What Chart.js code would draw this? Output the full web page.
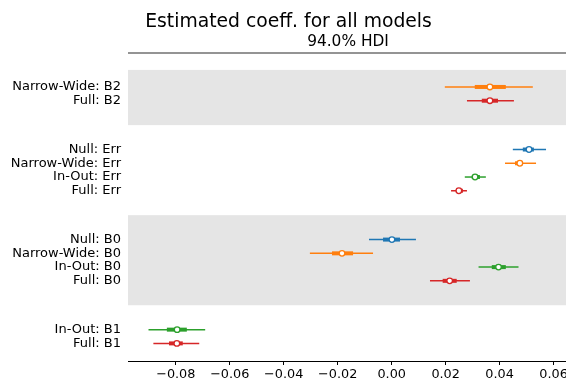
<!DOCTYPE html>
<html>
<head>
<meta charset="utf-8">
<script src="https://cdn.jsdelivr.net/npm/chart.js@4/dist/chart.umd.min.js"></script>
<style>
  html, body { margin: 0; padding: 0; background: #ffffff; overflow: hidden; }
  #wrap { width: 566px; height: 385px; overflow: hidden; }
</style>
</head>
<body>
<div id="wrap"><canvas id="c" width="600" height="385"></canvas></div>
<script>
// Forest plot: posterior medians, interquartile ranges and 94% HDIs per model
const rowLabels = [
  'Narrow-Wide: B2', 'Full: B2',
  'Null: Err', 'Narrow-Wide: Err', 'In-Out: Err', 'Full: Err',
  'Null: B0', 'Narrow-Wide: B0', 'In-Out: B0', 'Full: B0',
  'In-Out: B1', 'Full: B1'
];
const rowModels = [
  'Narrow-Wide', 'Full',
  'Null', 'Narrow-Wide', 'In-Out', 'Full',
  'Null', 'Narrow-Wide', 'In-Out', 'Full',
  'In-Out', 'Full'
];
const rowGroups = [0, 0, 1, 1, 1, 1, 2, 2, 2, 2, 3, 3];

const hdiLow   = [0.0197, 0.0279, 0.0449, 0.0420, 0.0271, 0.0220, -0.0084, -0.0303, 0.0322, 0.0142, -0.0901, -0.0883];
const hdiHigh  = [0.0523, 0.0453, 0.0572, 0.0535, 0.0349, 0.0279,  0.0090, -0.0069, 0.0470, 0.0290, -0.0691, -0.0713];
const iqrLow   = [0.0308, 0.0334, 0.0486, 0.0457, 0.0297, 0.0238, -0.0032, -0.0221, 0.0371, 0.0189, -0.0833, -0.0825];
const iqrHigh  = [0.0423, 0.0394, 0.0527, 0.0486, 0.0327, 0.0264,  0.0031, -0.0143, 0.0423, 0.0241, -0.0759, -0.0774];
const medians  = [0.0364, 0.0364, 0.0509, 0.0475, 0.0309, 0.0249,  0.0001, -0.0184, 0.0396, 0.0215, -0.0795, -0.0796];

const xTicks = [-0.08, -0.06, -0.04, -0.02, 0.00, 0.02, 0.04, 0.06];

const modelColors = {
  'Null': '#1f77b4',
  'Narrow-Wide': '#ff7f0e',
  'In-Out': '#2ca02c',
  'Full': '#d62728'
};

// vertical layout: one unit per row, extra space between parameter groups
const GROUP_GAP = 2.55;
const rowPos = rowLabels.map((_, i) => i + rowGroups[i] * GROUP_GAP);
const Y_MIN = -2.47, Y_MAX = 19.93;

// shaded band limits for alternating groups
function groupBands() {
  const nGroups = Math.max(...rowGroups) + 1;
  const bands = [];
  for (let g = 0; g < nGroups; g++) {
    const ps = rowPos.filter((_, i) => rowGroups[i] === g);
    const first = Math.min(...ps), last = Math.max(...ps);
    let top, bottom;
    if (g === 0) top = first - 1.24;
    else {
      const prevLast = Math.max(...rowPos.filter((_, i) => rowGroups[i] === g - 1));
      top = (prevLast + first) / 2;
    }
    if (g === nGroups - 1) bottom = Y_MAX;
    else {
      const nextFirst = Math.min(...rowPos.filter((_, i) => rowGroups[i] === g + 1));
      bottom = (last + nextFirst) / 2;
    }
    bands.push({ top, bottom, shaded: g % 2 === 0 });
  }
  return bands;
}

const datasets = [];
// medians on top
rowLabels.forEach((lab, i) => {
  const col = modelColors[rowModels[i]];
  datasets.push({
    label: lab + ' median', data: [{ x: medians[i], y: rowPos[i] }],
    pointRadius: 2.8, pointBackgroundColor: '#ffffff', pointBorderColor: col,
    pointBorderWidth: 1.3, showLine: false, order: 0
  });
});
rowLabels.forEach((lab, i) => {
  const col = modelColors[rowModels[i]];
  datasets.push({
    label: lab + ' iqr', data: [{ x: iqrLow[i], y: rowPos[i] }, { x: iqrHigh[i], y: rowPos[i] }],
    showLine: true, borderColor: col, borderWidth: 4, pointRadius: 0, borderCapStyle: 'butt', order: 1
  });
  datasets.push({
    label: lab + ' hdi', data: [{ x: hdiLow[i], y: rowPos[i] }, { x: hdiHigh[i], y: rowPos[i] }],
    showLine: true, borderColor: col, borderWidth: 1.5, pointRadius: 0, borderCapStyle: 'butt', order: 2
  });
});

const FONT = 'DejaVu Sans';

const decor = {
  id: 'decor',
  beforeDatasetsDraw(chart) {
    const { ctx, chartArea, scales } = chart;
    ctx.save();
    groupBands().forEach(b => {
      if (!b.shaded) return;
      const y1 = scales.y.getPixelForValue(b.top);
      const y2 = scales.y.getPixelForValue(b.bottom);
      ctx.fillStyle = '#e5e5e5';
      ctx.fillRect(chartArea.left, y1, chartArea.right - chartArea.left, y2 - y1);
    });
    ctx.restore();
  },
  afterDraw(chart) {
    const { ctx, chartArea } = chart;
    ctx.save();
    // top rule
    ctx.strokeStyle = '#707070';
    ctx.lineWidth = 1.5;
    ctx.beginPath();
    ctx.moveTo(chartArea.left, chartArea.top);
    ctx.lineTo(chartArea.right, chartArea.top);
    ctx.stroke();
    ctx.fillStyle = '#000000';
    ctx.textAlign = 'center';
    ctx.textBaseline = 'alphabetic';
    ctx.font = '18.75px "' + FONT + '"';
    ctx.fillText('Estimated coeff. for all models', 288.5, 27);
    ctx.font = '15.4px "' + FONT + '"';
    ctx.fillText('94.0% HDI', (chartArea.left + chartArea.right) / 2 + 1, 46);
    ctx.restore();
  }
};

new Chart(document.getElementById('c'), {
  type: 'scatter',
  data: { datasets },
  options: {
    responsive: false,
    animation: false,
    events: [],
    layout: { padding: { top: 53, right: 34, left: 0, bottom: 0 } },
    plugins: { legend: { display: false }, tooltip: { enabled: false } },
    scales: {
      x: {
        type: 'linear',
        min: -0.0977, max: 0.0646,
        afterBuildTicks: axis => { axis.ticks = xTicks.map(v => ({ value: v })); },
        afterFit: axis => { axis.height = 24; },
        ticks: {
          autoSkip: false, maxRotation: 0, padding: 2,
          color: '#000000',
          font: { family: FONT, size: 12.8 },
          callback: v => (v < 0 ? '\u2212' : '') + Math.abs(v).toFixed(2)
        },
        grid: { display: true, drawOnChartArea: false, drawTicks: true, tickLength: 4, color: '#000000', lineWidth: 1 },
        border: { display: true, color: '#000000', width: 1 }
      },
      y: {
        type: 'linear',
        reverse: true,
        min: Y_MIN, max: Y_MAX,
        afterBuildTicks: axis => { axis.ticks = rowPos.map(v => ({ value: v })); },
        afterFit: axis => { axis.width = 128; },
        ticks: {
          autoSkip: false, padding: 7,
          color: '#000000',
          font: { family: FONT, size: 13 },
          callback: (v) => { const i = rowPos.findIndex(p => Math.abs(p - v) < 1e-6); return i >= 0 ? rowLabels[i] : ''; }
        },
        grid: { display: false, drawTicks: false },
        border: { display: false }
      }
    }
  },
  plugins: [decor]
});
</script>
</body>
</html>
